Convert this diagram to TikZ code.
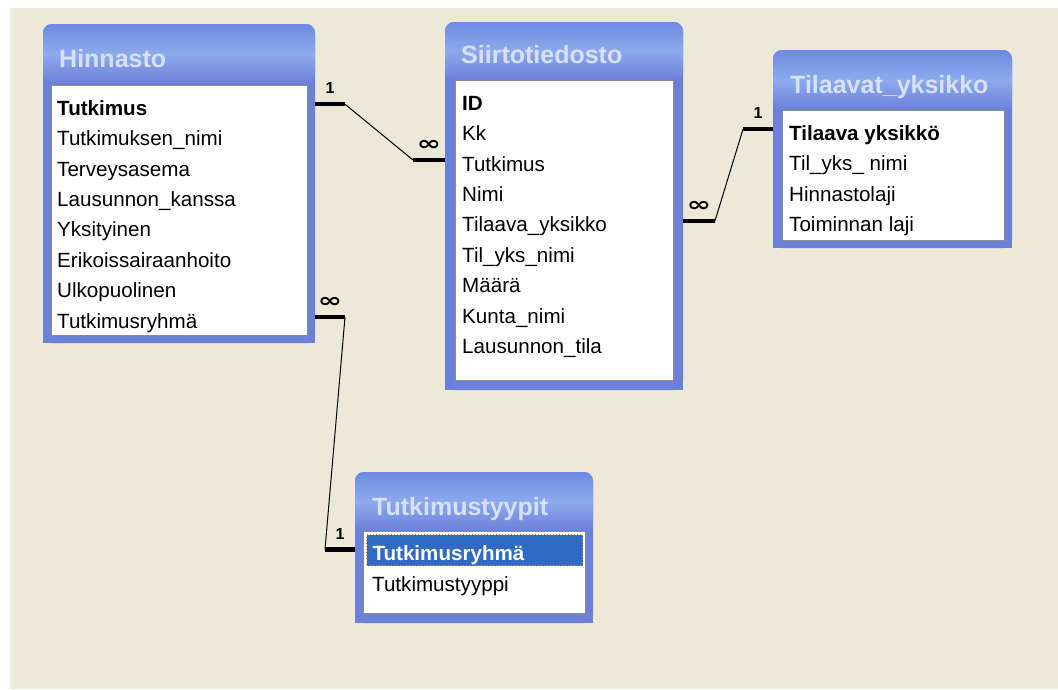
\documentclass[tikz,border=0pt]{standalone}
\usepackage{fontspec}
\setmainfont{Liberation Sans}
\newfontfamily\symfont{DejaVu Sans}
\usetikzlibrary{positioning}

\definecolor{deskbg}{RGB}{236,233,216}
\definecolor{framecol}{RGB}{108,128,218}
\definecolor{titletop}{RGB}{110,138,226}
\definecolor{titlemid}{RGB}{140,170,236}
\definecolor{titletext}{RGB}{214,225,248}
\definecolor{listedge}{RGB}{140,140,140}
\definecolor{selblue}{RGB}{49,106,197}
\definecolor{selline}{RGB}{200,150,60}

\tikzset{
  tabframe/.style={rectangle,rounded corners=9pt,fill=framecol,
                   inner sep=0pt,outer sep=0pt,anchor=north west},
  tablist/.style={rectangle,fill=white,draw=listedge,
                  inner sep=0pt,outer sep=0pt,anchor=north west},
  tabtitle/.style={anchor=base west,inner sep=0pt,text=titletext,
                   font=\fontsize{25}{30}\selectfont\bfseries},
  field/.style={anchor=north west,inner sep=0pt,
                text height=20pt,text depth=10pt,
                font=\fontsize{20.6}{24}\selectfont},
  keyfield/.style={field,font=\fontsize{20.6}{24}\selectfont\bfseries},
  linkbar/.style={line width=4.5pt,black},
  linkline/.style={line width=1pt,black},
  onelabel/.style={inner sep=0pt,above=8pt,
                   font=\fontsize{16}{16}\selectfont\bfseries},
  manylabel/.style={inner sep=0pt,above=7pt,xscale=1.45,transform shape,
                    font=\symfont\fontsize{20}{20}\selectfont\bfseries},
}

\begin{document}
\begin{tikzpicture}[x=1pt,y=-1pt]

% desk
\fill[white] (0,0) rectangle (1058,689);
\fill[deskbg] (10,8) rectangle (1058,689);

% Hinnasto
\node[tabframe,minimum width=272pt,minimum height=319pt] (hin) at (43,24) {};
\shade[rounded corners=9pt,top color=titletop,bottom color=framecol,middle color=titlemid]
      (hin.north west) rectangle ([yshift=-60pt]hin.north east);
\fill[framecol] ([yshift=12pt]hin.south west) rectangle (hin.south east);
\node[tabtitle] (hin-t) at ([shift={(16,43)}]hin.north west) {Hinnasto};
\node[tablist,minimum width=256pt,minimum height=250pt]
      (hin-l) at ([shift={(8,61)}]hin.north west) {};
\node[keyfield] (hin-1) at ([shift={(6,10)}]hin-l.north west) {Tutkimus};
\node[field,below=0pt of hin-1.south west,anchor=north west] (hin-2) {Tutkimuksen\_nimi};
\node[field,below=0pt of hin-2.south west,anchor=north west] (hin-3) {Terveysasema};
\node[field,below=0pt of hin-3.south west,anchor=north west] (hin-4) {Lausunnon\_kanssa};
\node[field,below=0pt of hin-4.south west,anchor=north west] (hin-5) {Yksityinen};
\node[field,below=0pt of hin-5.south west,anchor=north west] (hin-6) {Erikoissairaanhoito};
\node[field,below=0pt of hin-6.south west,anchor=north west] (hin-7) {Ulkopuolinen};
\node[field,below=0pt of hin-7.south west,anchor=north west] (hin-8) {Tutkimusryhmä};

% Siirtotiedosto
\node[tabframe,minimum width=238pt,minimum height=368pt] (sii) at (445,22) {};
\shade[rounded corners=9pt,top color=titletop,bottom color=framecol,middle color=titlemid]
      (sii.north west) rectangle ([yshift=-58pt]sii.north east);
\fill[framecol] ([yshift=12pt]sii.south west) rectangle (sii.south east);
\node[tabtitle] (sii-t) at ([shift={(16,41)}]sii.north west) {Siirtotiedosto};
\node[tablist,minimum width=218pt,minimum height=300pt]
      (sii-l) at ([shift={(10,58)}]sii.north west) {};
\node[keyfield] (sii-1) at ([shift={(7,10)}]sii-l.north west) {ID};
\node[field,below=0pt of sii-1.south west,anchor=north west] (sii-2) {Kk};
\node[field,below=0pt of sii-2.south west,anchor=north west] (sii-3) {Tutkimus};
\node[field,below=0pt of sii-3.south west,anchor=north west] (sii-4) {Nimi};
\node[field,below=0pt of sii-4.south west,anchor=north west] (sii-5) {Tilaava\_yksikko};
\node[field,below=0pt of sii-5.south west,anchor=north west] (sii-6) {Til\_yks\_nimi};
\node[field,below=0pt of sii-6.south west,anchor=north west] (sii-7) {Määrä};
\node[field,below=0pt of sii-7.south west,anchor=north west] (sii-8) {Kunta\_nimi};
\node[field,below=0pt of sii-8.south west,anchor=north west] (sii-9) {Lausunnon\_tila};

% Tilaavat_yksikko
\node[tabframe,minimum width=239pt,minimum height=198pt] (til) at (773,50) {};
\shade[rounded corners=9pt,top color=titletop,bottom color=framecol,middle color=titlemid]
      (til.north west) rectangle ([yshift=-60pt]til.north east);
\fill[framecol] ([yshift=12pt]til.south west) rectangle (til.south east);
\node[tabtitle] (til-t) at ([shift={(17,43)}]til.north west) {Tilaavat\_yksikko};
\node[tablist,minimum width=222pt,minimum height=130pt]
      (til-l) at ([shift={(9,60)}]til.north west) {};
\node[keyfield] (til-1) at ([shift={(7,10)}]til-l.north west) {Tilaava yksikkö};
\node[field,below=0pt of til-1.south west,anchor=north west] (til-2) {Til\_yks\_ nimi};
\node[field,below=0pt of til-2.south west,anchor=north west] (til-3) {Hinnastolaji};
\node[field,below=0pt of til-3.south west,anchor=north west] (til-4) {Toiminnan laji};

% Tutkimustyypit
\node[tabframe,minimum width=238pt,minimum height=151pt] (tyy) at (355,472) {};
\shade[rounded corners=9pt,top color=titletop,bottom color=framecol,middle color=titlemid]
      (tyy.north west) rectangle ([yshift=-59pt]tyy.north east);
\fill[framecol] ([yshift=12pt]tyy.south west) rectangle (tyy.south east);
\node[tabtitle] (tyy-t) at ([shift={(17,43)}]tyy.north west) {Tutkimustyypit};
\node[tablist,minimum width=222pt,minimum height=82pt]
      (tyy-l) at ([shift={(8,59)}]tyy.north west) {};
\node[keyfield,fill=selblue,text=white,draw=selline,dotted,line width=1pt,
      text width=204pt,inner xsep=6pt,inner ysep=2pt,
      text height=24pt,text depth=3pt]
      (tyy-1) at ([shift={(3,3)}]tyy-l.north west) {Tutkimusryhmä};
\node[field,below=5pt of tyy-1.south west,anchor=north west,xshift=6pt] (tyy-2) {Tutkimustyyppi};

% Hinnasto -- Siirtotiedosto
\coordinate[yshift=11pt] (r1a) at (hin.east |- hin-1.base);
\draw[linkbar] (r1a) -- node[onelabel] (r1-one) {1} ++(30,0) coordinate (r1b);
\coordinate[yshift=11pt] (r1d) at (sii.west |- sii-3.base);
\draw[linkbar] (r1d) -- node[manylabel] (r1-many) {∞} ++(-32,0) coordinate (r1c);
\draw[linkline] (r1b) -- (r1c);

% Siirtotiedosto -- Tilaavat_yksikko
\coordinate[yshift=11pt] (r2a) at (sii.east |- sii-5.base);
\draw[linkbar] (r2a) -- node[manylabel] (r2-many) {∞} ++(32,0) coordinate (r2b);
\coordinate[yshift=11pt] (r2d) at (til.west |- til-1.base);
\draw[linkbar] (r2d) -- node[onelabel] (r2-one) {1} ++(-30,0) coordinate (r2c);
\draw[linkline] (r2b) -- (r2c);

% Hinnasto -- Tutkimustyypit
\coordinate[yshift=11pt] (r3a) at (hin.east |- hin-8.base);
\draw[linkbar] (r3a) -- node[manylabel] (r3-many) {∞} ++(30,0) coordinate (r3b);
\coordinate[yshift=11pt] (r3d) at (tyy.west |- tyy-1.base);
\draw[linkbar] (r3d) -- node[onelabel] (r3-one) {1} ++(-30,0) coordinate (r3c);
\draw[linkline] (r3b) -- (r3c);

\end{tikzpicture}
\end{document}
